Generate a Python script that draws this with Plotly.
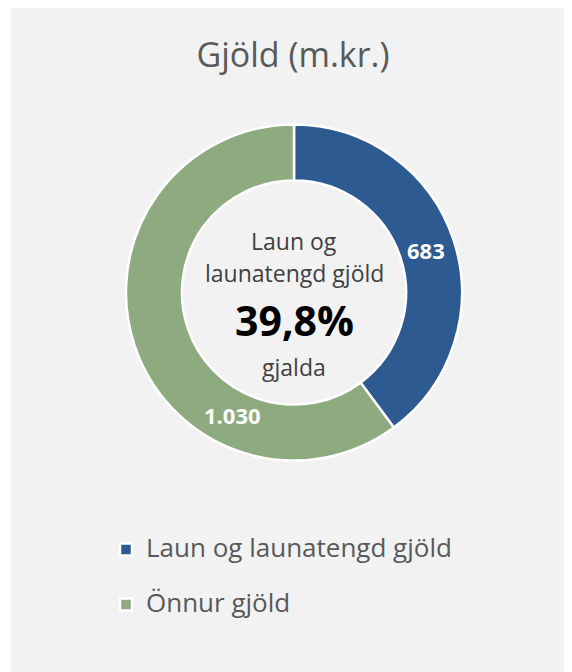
import plotly.graph_objects as go

# Gjöld (m.kr.)
categories = ['Laun og launatengd gjöld', 'Önnur gjöld']
values = [683, 1030]
colors = ['#2D5A91', '#8DAB7E']
center_share = '39,8%'

W, H = 572, 672
FONT = 'Open Sans'
# page body has an 8px margin, so figure coords = page coords - 8
CX, CY, R = 286, 284.5, 168


def fmt_is(v):
    # icelandic thousands separator
    return f'{v:,}'.replace(',', '.')


fig = go.Figure()

fig.add_trace(go.Pie(
    labels=[f"<span style='font-size:26px'>{c}</span><br> " for c in categories],
    values=values,
    sort=False,
    direction='clockwise',
    rotation=0,
    hole=0.667,
    marker=dict(colors=colors, line=dict(color='white', width=2.5)),
    textinfo='none',
    hoverinfo='label+value',
    domain=dict(x=[(CX - R) / W, (CX + R) / W],
                y=[(H - CY - R) / H, (H - CY + R) / H]),
    showlegend=True,
))

# data labels (Excel style placement)
label_pos = [(418, 242), (224.5, 407)]
annotations = []
for v, (px, py) in zip(values, label_pos):
    annotations.append(dict(x=px / W, y=1 - py / H, xref='paper', yref='paper',
                            xanchor='center', yanchor='middle',
                            text=f'<b>{fmt_is(v)}</b>', showarrow=False,
                            font=dict(family=FONT, size=22, color='white')))

# text in the middle of the donut
center = [('Laun og', 233, 23, False, '#404040'),
          ('launatengd gjöld', 265, 23, False, '#404040'),
          (center_share, 312, 41, True, 'black'),
          ('gjalda', 359, 23, False, '#404040')]
for txt, py, size, bold, col in center:
    annotations.append(dict(x=CX / W, y=1 - py / H, xref='paper', yref='paper',
                            xanchor='center', yanchor='middle',
                            text=f'<b>{txt}</b>' if bold else txt, showarrow=False,
                            font=dict(family=FONT, size=size, color=col)))

fig.update_layout(
    width=W, height=H,
    margin=dict(l=0, r=0, t=0, b=0),
    paper_bgcolor='white',
    font=dict(family=FONT, color='#595959'),
    title=dict(text='Gjöld (m.kr.)', x=285 / W, xanchor='center',
               y=1 - 47 / H, yanchor='middle',
               font=dict(family=FONT, size=34, color='#595959')),
    shapes=[dict(type='rect', xref='paper', yref='paper', layer='below',
                 x0=3 / W, x1=1, y0=0, y1=1,
                 fillcolor='#F2F2F2', line=dict(width=0))],
    annotations=annotations,
    legend=dict(x=98 / W, xanchor='left', y=1 - 522 / H, yanchor='top',
                font=dict(family=FONT, size=20, color='#595959'),
                valign='top', itemwidth=30, bgcolor='rgba(0,0,0,0)',
                traceorder='normal'),
)

fig.write_html('out.html')
